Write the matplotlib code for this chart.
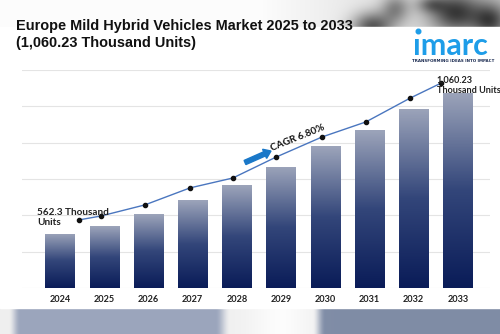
import numpy as np
import matplotlib.pyplot as plt
from matplotlib.colors import LinearSegmentedColormap
from matplotlib.patches import Rectangle, FancyArrow, Circle

# market volume per year, thousand units
years = ["2024", "2025", "2026", "2027", "2028", "2029", "2030", "2031", "2032", "2033"]
units = [562.3, 590.5, 632.9, 682.3, 735.3, 798.9, 873.0, 929.5, 1003.7, 1060.23]

# trend line drawn above the bars (position on the year axis, value)
trend_x = [0.43, 0.93, 1.92, 2.94, 3.91, 4.89, 5.93, 6.92, 7.92, 8.62]
trend_y = [612, 626, 665, 725, 760, 834, 905, 958, 1042, 1095]

title = "Europe Mild Hybrid Vehicles Market 2025 to 2033\n(1,060.23 Thousand Units)"
first_label = "562.3 Thousand\nUnits"
last_label = "1,060.23\nThousand Units"
cagr_label = "CAGR 6.80%"

W, H = 500, 334
fig = plt.figure(figsize=(W / 100, H / 100), dpi=100)

# ---- background: photo strips above and below the white card ----
bg = fig.add_axes([0, 0, 1, 1], zorder=0)
bg.set_xlim(0, W)
bg.set_ylim(H, 0)
bg.axis("off")

xs = np.arange(W)
ys = np.arange(27)
gx, gy = np.meshgrid(xs, ys)
top = 0.99 - 0.2 * np.clip((xs - 260) / 240, 0, 1)[None, :] * np.ones((27, 1))
for cx, cy, sx, sy, depth in [(372, 26, 14, 10, 0.55), (395, 8, 10, 10, 0.35),
                              (455, 12, 18, 14, 0.6), (490, 20, 12, 12, 0.5),
                              (430, 4, 10, 6, 0.3)]:
    top -= depth * np.exp(-((gx - cx) ** 2 / (2 * sx ** 2) + (gy - cy) ** 2 / (2 * sy ** 2)))
top = np.clip(top, 0, 1)
bg.imshow(np.dstack([top, top, top]), extent=[0, W, 27, 0], aspect="auto", zorder=0)


def smoothstep(a, b, v):
    t = np.clip((v - a) / (b - a), 0, 1)
    return t * t * (3 - 2 * t)


light = np.array([0.94, 0.94, 0.94])
blue_a = np.array([0.61, 0.65, 0.74])
blue_b = np.array([0.50, 0.55, 0.65])
m1 = smoothstep(8, 20, xs) * (1 - smoothstep(215, 230, xs))
m2 = smoothstep(312, 325, xs)
white = np.exp(-((xs - 280) / 30.0) ** 2) * 0.05
row = light[None, :] * (1 - m1 - m2)[:, None] + blue_a[None, :] * m1[:, None] \
    + blue_b[None, :] * m2[:, None] + white[:, None]
bottom_img = np.repeat(np.clip(row, 0, 1)[None, :, :], 2, axis=0)
bg.imshow(bottom_img, extent=[0, W, H, 307.5], aspect="auto", zorder=0)
bg.add_patch(Rectangle((0, 27), W, 280.5, color="white", zorder=0.5))

# ---- title and logo ----
bg.text(16, 47, title, fontsize=10.45, fontweight="bold", color="#111111",
        family="Liberation Sans", va="baseline", linespacing=1.3)
bg.text(413, 55, "\u0131marc", fontsize=22, fontweight="bold", color="#1e9de8",
        family="Lato", va="baseline")
bg.add_patch(Circle((418.5, 31.5), 2.3, color="#1e9de8", zorder=3))
bg.text(453, 60.5, "TRANSFORMING IDEAS INTO IMPACT", fontsize=2.9, fontweight="bold",
        color="#1a2a50", ha="center", va="center", family="DejaVu Sans")

# CAGR arrow
bg.add_patch(FancyArrow(245, 162.5, 26, -11.5, width=4.5, head_width=10,
                        head_length=7, length_includes_head=True,
                        color="#1a78c8", zorder=5))

# ---- chart ----
x0, step = 60, 44.2
ax = fig.add_axes([22 / W, 1 - 288 / H, (490 - 22) / W, (288 - 70) / H], zorder=2)
ax.patch.set_alpha(0)
ymin = 371.6
grid_step = 128.3
ax.set_ylim(ymin, ymin + 6 * grid_step)
ax.set_xlim((22 - x0) / step, (490 - x0) / step)
ax.set_yticks([ymin + k * grid_step for k in range(7)])
ax.yaxis.grid(True, color="#e4e4e4", lw=0.8)
ax.set_axisbelow(True)
ax.tick_params(axis="y", left=False, labelleft=False)
ax.tick_params(axis="x", bottom=False, pad=1.5)
for s in ax.spines.values():
    s.set_visible(False)

bar_cmap = LinearSegmentedColormap.from_list("bar", ["#0a1c58", "#33467a", "#9ca4ba"])
pos = np.arange(len(years))
bw = 0.66
grad = np.linspace(0, 1, 200)[:, None]
for i, v in zip(pos, units):
    rect = Rectangle((i - bw / 2, ymin), bw, v - ymin, facecolor="none",
                     edgecolor="none")
    ax.add_patch(rect)
    im = ax.imshow(grad, cmap=bar_cmap, origin="lower", aspect="auto",
                   extent=[i - bw / 2, i + bw / 2, ymin, v], zorder=2)
    im.set_clip_path(rect)

ax.set_xticks(pos)
ax.set_xticklabels(years, fontsize=6.6, fontweight="bold", color="#222222", family="Lato")

ax.plot(trend_x, trend_y, color="#4a76bf", lw=1.0, zorder=3)
ax.plot(trend_x, trend_y, "o", color="#111111", ms=3, zorder=4)

ax.text(-0.52, 587, first_label, fontsize=7.2, fontweight="bold",
        color="#222222", family="Lato", va="bottom", ha="left", linespacing=1.15,
        zorder=5)
ax.text(8.52, 1053, last_label, fontsize=6.6, fontweight="bold",
        color="#222222", family="Lato", va="bottom", ha="left", linespacing=1.2,
        zorder=5)

ax.text(4.82, 848, cagr_label, fontsize=7.2, fontweight="bold", color="#111111",
        family="Lato", rotation=22, rotation_mode="anchor", va="bottom", ha="left",
        zorder=5)

fig.savefig("out.png", dpi=100)
